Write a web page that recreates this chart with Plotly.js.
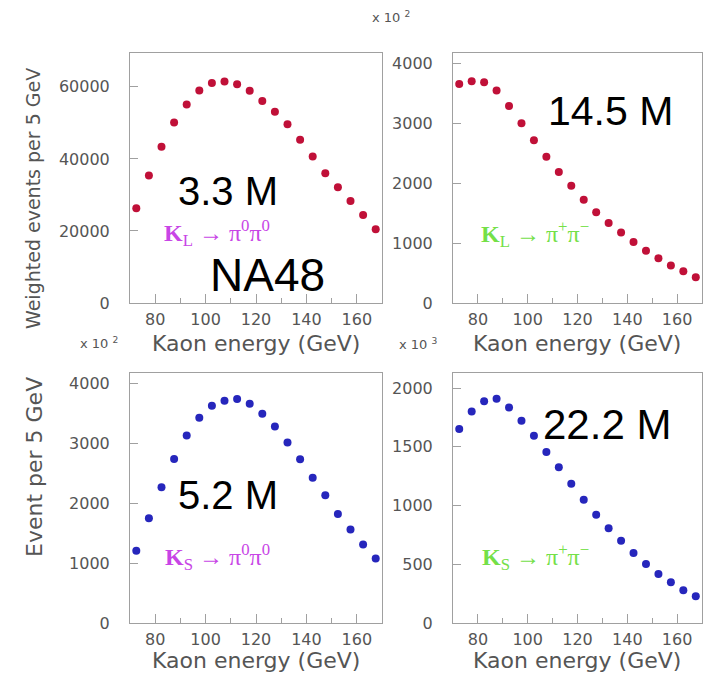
<!DOCTYPE html>
<html>
<head>
<meta charset="utf-8">
<script src="https://cdn.plot.ly/plotly-3.0.1.min.js"></script>
<style>html,body{margin:0;padding:0;background:#fff;}#chart{width:709px;height:675px;}</style>
</head>
<body>
<div id="chart"></div>
<script>
// Kaon energy bin centres (GeV)
const energy = [72.5, 77.5, 82.5, 87.5, 92.5, 97.5, 102.5, 107.5, 112.5, 117.5,
                122.5, 127.5, 132.5, 137.5, 142.5, 147.5, 152.5, 157.5, 162.5, 167.5];
// KL -> pi0 pi0 (weighted events per 5 GeV)
const klNeutral = [26300, 35400, 43400, 50100, 55100, 59000, 61100, 61500, 60700, 58900,
                   56100, 53100, 49600, 45300, 40700, 36000, 32100, 28300, 24400, 20500];
// KL -> pi+ pi- (x 10^2)
const klCharged = [3650, 3697, 3680, 3542, 3283, 2996, 2714, 2439, 2185, 1953,
                   1721, 1512, 1335, 1175, 1015, 872, 745, 623, 530, 430];
// KS -> pi0 pi0 (x 10^2)
const ksNeutral = [1203, 1744, 2262, 2735, 3125, 3421, 3621, 3705, 3733, 3655,
                   3487, 3276, 3008, 2730, 2423, 2128, 1816, 1560, 1309, 1075];
// KS -> pi+ pi- (x 10^3)
const ksCharged = [1651, 1801, 1887, 1909, 1835, 1722, 1594, 1455, 1325, 1186,
                   1050, 922, 806, 701, 596, 502, 417, 346, 278, 227];

const xTicks = [80, 100, 120, 140, 160];
const yTicksTL = [0, 20000, 40000, 60000];
const yTicksTR = [0, 1000, 2000, 3000, 4000];
const yTicksBL = [0, 1000, 2000, 3000, 4000];
const yTicksBR = [0, 500, 1000, 1500, 2000];

const W = 709, H = 675;
const px = v => v / W;
const py = v => 1 - v / H;

const red = '#c01038', blue = '#2626bc';
const mag = '#c845e6', grn = '#74e048';
const gray = '#555555', frame = '#a0a0a0';
const tickFont = {family: 'DejaVu Sans', size: 16, color: gray};

function mk(x, y, xa, ya, col) {
  return {x: x, y: y, xaxis: xa, yaxis: ya, type: 'scatter', mode: 'markers',
          marker: {color: col, size: 8, symbol: 'circle', line: {width: 0}},
          hoverinfo: 'x+y', showlegend: false};
}
const data = [
  mk(energy, klNeutral, 'x', 'y', red),
  mk(energy, klCharged, 'x2', 'y2', red),
  mk(energy, ksNeutral, 'x3', 'y3', blue),
  mk(energy, ksCharged, 'x4', 'y4', blue)
];

function xa(dom, anchor) {
  return {domain: dom, anchor: anchor, range: [70, 170], tickvals: xTicks,
          ticks: 'inside', ticklen: 9, tickcolor: frame, tickwidth: 1,
          minor: {dtick: 10, tick0: 0, ticks: 'inside', ticklen: 5, tickcolor: frame},
          showline: true, linecolor: frame, linewidth: 1, mirror: true,
          showgrid: false, zeroline: false, tickfont: tickFont, ticklabelstandoff: 2,
          fixedrange: true};
}
function ya(dom, anchor, range, tv) {
  return {domain: dom, anchor: anchor, range: range, tickvals: tv, tickformat: 'd',
          ticks: 'inside', ticklen: 8, tickcolor: frame, tickwidth: 1,
          showline: true, linecolor: frame, linewidth: 1, mirror: true,
          showgrid: false, zeroline: false, tickfont: tickFont, ticklabelstandoff: 16,
          fixedrange: true};
}

const dL = [px(130), px(382)], dR = [px(453), px(702)];
const dT = [py(303), py(53)], dB = [py(623), py(373)];

const ann = [];
function txt(x, y, t, font, extra) {
  ann.push(Object.assign({xref: 'paper', yref: 'paper', x: px(x), y: py(y), text: t,
    showarrow: false, font: font, xanchor: 'center', yanchor: 'middle'}, extra || {}));
}
const titleFont = {family: 'DejaVu Sans', size: 22, color: gray};
txt(256, 343, 'Kaon energy (GeV)', titleFont);
txt(577, 343, 'Kaon energy (GeV)', titleFont);
txt(256, 660, 'Kaon energy (GeV)', titleFont);
txt(577, 660, 'Kaon energy (GeV)', titleFont);
txt(33, 199, 'Weighted events per 5 GeV', {family: 'DejaVu Sans', size: 19, color: gray}, {textangle: -90});
txt(34, 467, 'Event per 5 GeV', {family: 'DejaVu Sans', size: 22, color: gray}, {textangle: -90});
const smallFont = {family: 'DejaVu Sans', size: 13, color: gray};
txt(391, 17, 'x 10 <sup>2</sup>', smallFont);
txt(99, 343, 'x 10 <sup>2</sup>', smallFont);
txt(418, 344, 'x 10 <sup>3</sup>', smallFont);

const rxFont = c => ({family: 'Liberation Serif', size: 24, color: c});
txt(217, 233, '<b>K</b><sub>L</sub> → π<sup>0</sup>π<sup>0</sup>', rxFont(mag));
txt(535, 234, '<b>K</b><sub>L</sub> → π<sup>+</sup>π<sup>−</sup>', rxFont(grn));
txt(217, 557, '<b>K</b><sub>S</sub> → π<sup>0</sup>π<sup>0</sup>', rxFont(mag));
txt(535, 557, '<b>K</b><sub>S</sub> → π<sup>+</sup>π<sup>−</sup>', rxFont(grn));

const big = s => ({family: 'Liberation Sans', size: s, color: '#000'});
txt(228, 191, '3.3 M', big(40));
txt(267, 275, 'NA48', big(46));
txt(610, 111, '14.5 M', big(41));
txt(228, 495, '5.2 M', big(40));
txt(607, 424, '22.2 M', big(42));

const layout = {
  width: W, height: H, margin: {l: 0, r: 0, t: 0, b: 0},
  paper_bgcolor: '#fff', plot_bgcolor: '#fff', showlegend: false,
  xaxis: xa(dL, 'y'), yaxis: ya(dT, 'x', [0, 69400], yTicksTL),
  xaxis2: xa(dR, 'y2'), yaxis2: ya(dT, 'x2', [0, 4167], yTicksTR),
  xaxis3: xa(dL, 'y3'), yaxis3: ya(dB, 'x3', [0, 4167], yTicksBL),
  xaxis4: xa(dR, 'y4'), yaxis4: ya(dB, 'x4', [0, 2128], yTicksBR),
  annotations: ann
};
Plotly.newPlot('chart', data, layout, {displayModeBar: false, staticPlot: true});
</script>
</body>
</html>
